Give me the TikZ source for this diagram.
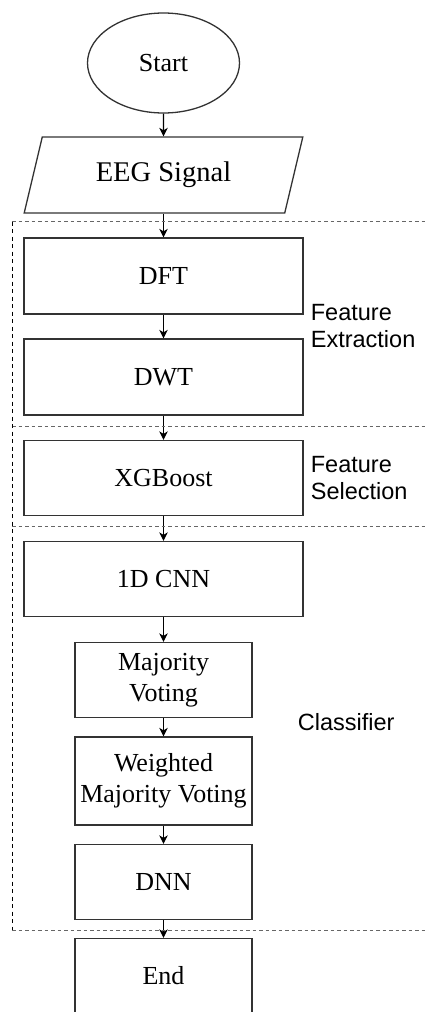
\documentclass[tikz,border=0pt]{standalone}
\usepackage{fontspec}
\setmainfont{Liberation Serif}
\newfontfamily\labelfont{Liberation Sans}
\usetikzlibrary{shapes.geometric,positioning,arrows.meta}

\begin{document}
\begin{tikzpicture}[x=1pt,y=1pt,node distance=101pt,>={Stealth[length=8.5pt,width=8.5pt,inset=2.5pt]}]
  \tikzstyle{bigbox}=[rectangle,draw=black!80,line width=1.3pt,minimum width=279pt,minimum height=76pt,font=\fontsize{26}{31}\selectfont]
  \tikzstyle{smallbox}=[rectangle,draw=black!80,line width=1.3pt,minimum width=177pt,minimum height=75pt,align=center,font=\fontsize{26}{31}\selectfont]
  \tikzstyle{flow}=[line width=1.2pt]
  \tikzstyle{texto}=[inner sep=0pt,align=left,font=\labelfont\fontsize{23.5}{27}\selectfont]
  \tikzstyle{sep}=[draw=black!60,line width=1.2pt,dash pattern=on 3.5pt off 3pt]
  \tikzstyle{vsep}=[draw=black,line width=1pt,dash pattern=on 4pt off 3.5pt]

  \useasboundingbox (0,0) rectangle (428,-1012);
  \clip (0,0) rectangle (428,-1012);

  \node [ellipse,draw=black!80,line width=1.3pt,minimum width=152pt,minimum height=100pt,font=\fontsize{26}{31}\selectfont] (start) at (163.5,-63) {Start};

  \node [trapezium,trapezium left angle=72,trapezium right angle=108,trapezium stretches=true,draw=black!80,line width=1.3pt,minimum width=279pt,minimum height=76pt,font=\fontsize{28.5}{31}\selectfont] (eeg) [below of=start,yshift=-11pt] {EEG Signal}
  edge [flow,<-] (start);

  \node [bigbox] (dft) [below of=eeg] {DFT}
  edge [flow,<-] (eeg);

  \node [bigbox] (dwt) [below of=dft] {DWT}
  edge [flow,<-] (dft);

  \node [bigbox,minimum height=75pt] (xg) [below of=dwt] {XGBoost}
  edge [flow,<-] (dwt);

  \node [bigbox,minimum height=75pt] (cnn) [below of=xg] {1D CNN}
  edge [flow,<-] (xg);

  \node [smallbox] (mv) [below of=cnn] {Majority\\Voting}
  edge [flow,<-] (cnn);

  \node [smallbox,minimum height=88pt] (wmv) [below of=mv] {Weighted\\Majority Voting}
  edge [flow,<-] (mv);

  \node [smallbox] (dnn) [below of=wmv] {DNN}
  edge [flow,<-] (wmv);

  \node [smallbox] (end) [below of=dnn,yshift=7pt] {End}
  edge [flow,<-] (dnn);

  % group labels
  \node [texto] (fe) [right=7pt of dft.south east,yshift=-11pt] {Feature\\Extraction};
  \node [texto] (fs) [right=7pt of xg.east] {Feature\\Selection};
  \node [texto] (cl) [right=45pt of mv.south east,yshift=-4pt] {Classifier};

  % dashed separators
  \coordinate (lft) at (12,0);
  \coordinate (rgt) at (428,0);
  \coordinate [below=8pt of eeg.south] (s1);
  \coordinate [below=11pt of dwt.south] (s2);
  \coordinate [below=10pt of xg.south] (s3);
  \coordinate [below=10pt of dnn.south] (s4);
  \draw [sep] (s1 -| lft) -- (s1 -| rgt);
  \draw [sep] (s2 -| lft) -- (s2 -| rgt);
  \draw [sep] (s3 -| lft) -- (s3 -| rgt);
  \draw [sep] (s4 -| lft) -- (s4 -| rgt);
  \draw [vsep] (s1 -| lft) -- (s4 -| lft);
\end{tikzpicture}
\end{document}
